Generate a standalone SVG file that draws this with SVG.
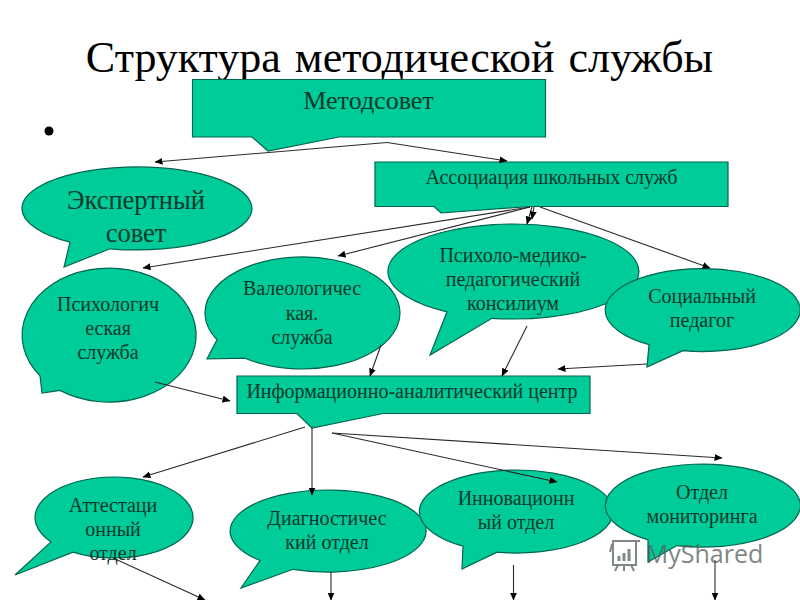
<svg xmlns="http://www.w3.org/2000/svg" width="800" height="600" viewBox="0 0 800 600">
<style>
.n{fill:#00cc99;stroke:#006650;stroke-width:1.2}
text{font-family:"Liberation Serif","Times New Roman",serif;fill:#04382b;text-anchor:middle}
.s18{font-size:20px}
.s24{font-size:26.500px}
.c{fill:none;stroke:#2a2a2a;stroke-width:1.1;marker-end:url(#a)}
.wm{fill:none;stroke:#55605c;stroke-width:2;opacity:.75}
</style>
<defs>
<marker id="a" viewBox="0 0 8 8" refX="7.500" refY="4" markerWidth="8" markerHeight="8" markerUnits="userSpaceOnUse" orient="auto"><path d="M0 0.500L8 4L0 7.500Z" fill="#000"/></marker>
</defs>
<rect width="800" height="600" fill="#fff"/>
<text id="title" x="399.500" y="72" style="font-size:44px;fill:#000;word-spacing:3px">Структура методической службы</text>
<circle id="bullet" cx="49" cy="131" r="4.500" fill="#000"/>
<g id="metodsovet"><path class="n" d="M192.500 79.500H545.500V137H339L268 151L252 137H192.500Z"/><text x="368.500" y="109" style="font-size:26px">Методсовет</text></g>
<g id="expert"><path class="n" d="M70 242.200A115 41.500 0 1 1 110 248.800L64 267Z"/><text x="136" y="209" class="s24">Экспертный</text><text x="136" y="242" class="s24">совет</text></g>
<g id="assoc"><path class="n" d="M375 162H728V206.500H530L441 213L434 206.500H375Z"/><text x="551.500" y="184" class="s18">Ассоциация школьных служб</text></g>
<g id="pmpk"><path class="n" d="M447 311.800A125.500 47.500 0 1 1 492 318.300L430 355Z"/><text x="513" y="262" class="s18">Психоло-медико-</text><text x="513" y="286" class="s18">педагогический</text><text x="513" y="310" class="s18">консилиум</text></g>
<g id="social"><path class="n" d="M649 344.700A97.500 41.500 0 1 1 683 350.700L647 367Z"/><text x="702" y="303" class="s18">Социальный</text><text x="702" y="327" class="s18">педагог</text></g>
<g id="psych"><path class="n" d="M40 375.800A87 67 0 1 1 60 390.400L42 393Z"/><text x="108" y="311" class="s18">Психологич</text><text x="108" y="335" class="s18">еская</text><text x="108" y="359" class="s18">служба</text></g>
<g id="valeo"><path class="n" d="M217 339.900A97.500 56 0 1 1 245 358.200L207 359Z"/><text x="302" y="295" class="s18">Валеологичес</text><text x="302" y="320" class="s18">кая.</text><text x="302" y="344" class="s18">служба</text></g>
<g id="iac"><path class="n" d="M237 376H590V413.500H383L312 428L297 413.500H237Z"/><text x="412" y="398" class="s18">Информационно-аналитический центр</text></g>
<g id="attest"><path class="n" d="M51 541.900A79 40.500 0 1 1 73 552.100L15 575Z"/><text x="113" y="512" class="s18">Аттестаци</text><text x="113" y="536" class="s18">онный</text><text x="113" y="560" class="s18">отдел</text></g>
<g id="diag"><path class="n" d="M260 560.500A98 41 0 1 1 293 569.300L241 588Z"/><text x="327" y="525" class="s18">Диагностичес</text><text x="327" y="549" class="s18">кий отдел</text></g>
<g id="innov"><path class="n" d="M463 546.200A97 41.500 0 1 1 497 552.200L462 569Z"/><text x="516" y="505" class="s18">Инновационн</text><text x="516" y="529" class="s18">ый отдел</text></g>
<g id="monitor"><path class="n" d="M648 539.900A97.500 41.500 0 1 1 677 545.600L648 562Z"/><text x="702" y="499" class="s18">Отдел</text><text x="702" y="523" class="s18">мониторинга</text></g>
<g id="connectors">
<path class="c" d="M387 142.500L155 162"/>
<path class="c" d="M387 142.500L507 161"/>
<path class="c" d="M530 207L143 268"/>
<path class="c" d="M530 207L338 256"/>
<path class="c" d="M532 207L527 224"/>
<path class="c" d="M534 207L532 219"/>
<path class="c" d="M540 207L710 268"/>
<path class="c" d="M155 382L230 401"/>
<path class="c" d="M381 345L370 376"/>
<path class="c" d="M527 326L502 376"/>
<path class="c" d="M647 364L558 369"/>
<path class="c" d="M305 427L143 477"/>
<path class="c" d="M312 428V495"/>
<path class="c" d="M332 433L722 458"/>
<path class="c" d="M332 433L557 482"/>
<path class="c" d="M113 558L205 600"/>
<path class="c" d="M331 572V600"/>
<path class="c" d="M513.500 565V600"/>
<path class="c" d="M715 560V600"/>
</g>
<g id="watermark">
<path class="wm" d="M612 541H640M613 541V565H636V541M610 552L612 544M618 565L615 571M631 565L634 571M624 565V571"/>
<path d="M619 561V556M624 561V553M629 561V549" fill="none" stroke="#55605c" stroke-width="3" opacity=".75"/>
<text x="704.500" y="563" style="font-family:'Open Sans',sans-serif;font-size:25px;fill:#55605c;opacity:.75">MyShared</text>
</g>
</svg>
